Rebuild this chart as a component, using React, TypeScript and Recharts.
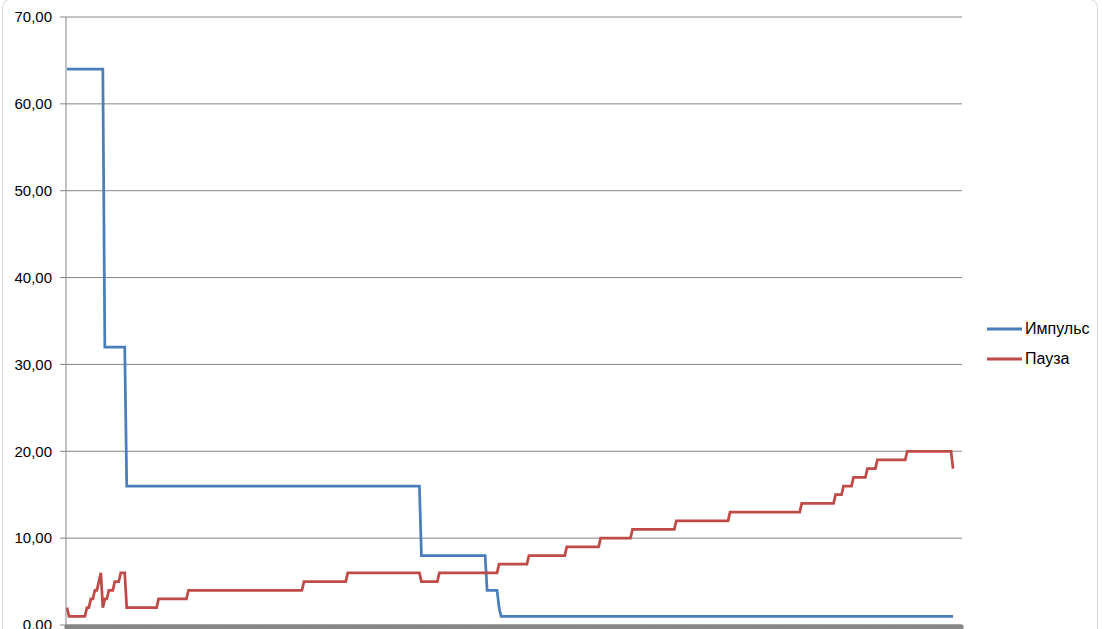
import React from 'react';
import { LineChart, Line, XAxis, YAxis, CartesianGrid } from 'recharts';

// Sample index (x) and value (y) at each change point
const pulseSamples = [0, 18, 19, 29, 30, 177, 178, 210, 211, 216, 217, 218, 445];
const pulseValues = [64, 64, 32, 32, 16, 16, 8, 8, 4, 4, 2, 1, 1];

const pauseSamples = [
  0, 1, 9, 10, 11, 12, 13, 14, 15, 16, 17, 18, 19, 20, 21, 23, 24, 26, 27, 29, 30,
  45, 46, 60, 61, 118, 119, 140, 141, 177, 178, 186, 187, 216, 217, 231, 232, 250, 251,
  267, 268, 283, 284, 305, 306, 332, 333, 368, 369, 385, 386, 389, 390, 394, 395, 401,
  402, 406, 407, 421, 422, 444, 445,
];
const pauseValues = [
  2, 1, 1, 2, 2, 3, 3, 4, 4, 5, 6, 2, 3, 3, 4, 4, 5, 5, 6, 6, 2,
  2, 3, 3, 4, 4, 5, 5, 6, 6, 5, 5, 6, 6, 7, 7, 8, 8, 9,
  9, 10, 10, 11, 11, 12, 12, 13, 13, 14, 14, 15, 15, 16, 16, 17, 17,
  18, 18, 19, 19, 20, 20, 18,
];

const seriesNames = ['Импульс', 'Пауза'];
const seriesColors = ['#4a7ebb', '#be4b48'];
const yTicks = [0, 10, 20, 30, 40, 50, 60, 70];
const sampleCount = 450;

const pulseData = pulseSamples.map((x, i) => ({ x, v: pulseValues[i] }));
const pauseData = pauseSamples.map((x, i) => ({ x, v: pauseValues[i] }));
const xTicks = Array.from({ length: sampleCount + 1 }, (_, i) => i - 0.5);

const FONT = '"Liberation Sans", Arial, sans-serif';

const LegendBox = () => (
  <div style={{ position: 'absolute', left: 987, top: 314, fontFamily: FONT, fontSize: 16, color: '#000' }}>
    {seriesNames.map((name, i) => (
      <div key={name} style={{ display: 'flex', alignItems: 'center', height: 30 }}>
        <svg width={35} height={4} style={{ display: 'block' }}>
          <line x1={0} y1={2} x2={35} y2={2} stroke={seriesColors[i]} strokeWidth={3} />
        </svg>
        <span style={{ marginLeft: 3, lineHeight: '16px' }}>{name}</span>
      </div>
    ))}
  </div>
);

export default function App() {
  return (
    <div style={{ position: 'absolute', left: 0, top: 0, width: 1102, height: 629, background: '#fff', overflow: 'hidden' }}>
      <div
        style={{
          position: 'absolute',
          left: 2,
          top: -1,
          width: 1096,
          height: 660,
          border: '1px solid #d9d9d9',
          borderRadius: 8,
          boxSizing: 'border-box',
        }}
      />
      <div style={{ position: 'absolute', left: 0, top: 0 }}>
        <LineChart width={1102} height={629} margin={{ top: 17, right: 140, bottom: 0, left: 0 }}>
          <CartesianGrid vertical={false} stroke="#868686" strokeWidth={1} />
          <XAxis
            type="number"
            dataKey="x"
            domain={[-0.5, sampleCount - 0.5]}
            ticks={xTicks}
            interval={0}
            allowDataOverflow
            height={4}
            tickSize={5}
            tickFormatter={() => ''}
            axisLine={{ stroke: '#868686' }}
            tickLine={{ stroke: '#868686', strokeWidth: 3 }}
          />
          <YAxis
            type="number"
            domain={[0, 70]}
            ticks={yTicks}
            interval={0}
            width={66}
            tickSize={6}
            tickMargin={8}
            axisLine={{ stroke: '#868686' }}
            tickLine={{ stroke: '#868686' }}
            tick={{ fill: '#000', fontSize: 15, fontFamily: FONT }}
            tickFormatter={(v: number) => v.toFixed(2).replace('.', ',')}
          />
          <Line
            data={pulseData}
            dataKey="v"
            name={seriesNames[0]}
            type="linear"
            stroke={seriesColors[0]}
            strokeWidth={2.75}
            dot={false}
            activeDot={false}
            isAnimationActive={false}
          />
          <Line
            data={pauseData}
            dataKey="v"
            name={seriesNames[1]}
            type="linear"
            stroke={seriesColors[1]}
            strokeWidth={2.75}
            dot={false}
            activeDot={false}
            isAnimationActive={false}
          />
        </LineChart>
      </div>
      <LegendBox />
    </div>
  );
}
